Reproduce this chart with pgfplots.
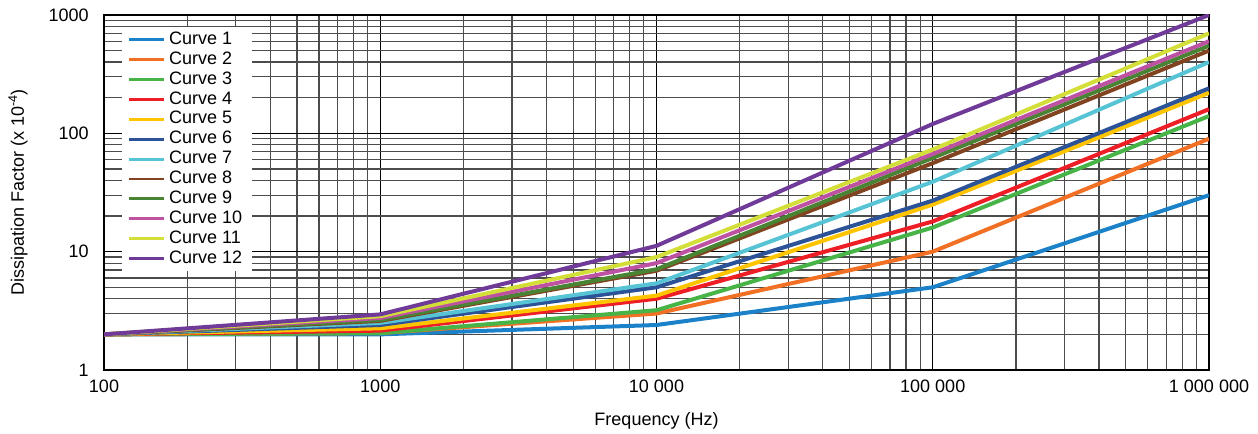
\documentclass[border=0pt]{standalone}
\usepackage{fontspec}
\setmainfont{Liberation Sans}
\usepackage{pgfplots}
\pgfplotsset{compat=1.18}
\definecolor{c1}{RGB}{27,129,200}
\definecolor{c2}{RGB}{242,112,36}
\definecolor{c3}{RGB}{72,180,72}
\definecolor{c4}{RGB}{237,30,38}
\definecolor{c5}{RGB}{255,196,0}
\definecolor{c6}{RGB}{44,82,152}
\definecolor{c7}{RGB}{86,196,212}
\definecolor{c8}{RGB}{130,68,32}
\definecolor{c9}{RGB}{72,132,52}
\definecolor{c10}{RGB}{190,82,162}
\definecolor{c11}{RGB}{212,222,56}
\definecolor{c12}{RGB}{112,58,152}
\begin{document}
\begin{tikzpicture}
\useasboundingbox (-78pt,-48pt) rectangle (865.5pt,277.5pt);
\begin{axis}[
  scale only axis,
  width=828.75pt, height=266.25pt,
  xmode=log, ymode=log,
  xmin=100, xmax=1000000, ymin=1, ymax=1000,
  font=\fontsize{13.5}{16}\selectfont,
  /pgf/number format/assume math mode=true,
  xtick={100,1000,10000,100000,1000000},
  xticklabels={100,1000,10 000,100 000,1 000 000},
  ytick={1,10,100,1000},
  yticklabels={1,10,100,1000},
  major tick length=0pt, minor tick length=0pt,
  grid=both,
  major grid style={black, line width=0.9pt},
  minor grid style={black!70, line width=0.9pt},
  axis line style={line width=1.5pt},
  xticklabel style={yshift=-4pt},
  yticklabel style={xshift=-8pt},
  xlabel={Frequency (Hz)},
  ylabel={Dissipation Factor (x 10\textsuperscript{-4})},
  xlabel style={at={(axis description cs:0.5,0)}, anchor=center, yshift=-38.5pt},
  ylabel style={at={(axis description cs:-0.0778,0.5)}, anchor=center},
  legend style={at={(0.0163,0.966)}, anchor=north west, draw=none, fill=white,
    inner xsep=4pt, inner ysep=2pt,
    nodes={text height=9.9pt, text depth=3pt, inner ysep=1pt, inner xsep=3pt},
    font=\fontsize{13.5}{16}\selectfont},
  legend cell align=left,
  legend image code/.code={\draw[#1, line width=2.2pt] (0pt,0pt) -- (26pt,0pt);},
  every axis plot/.append style={line width=3pt, line join=round},
]
\addplot[c1] coordinates {(100,2) (1000,2.0) (10000,2.4) (100000,5) (1000000,30)};
\addlegendentry{Curve 1}
\addplot[c2] coordinates {(100,2) (1000,2.05) (10000,3.0) (100000,10) (1000000,90)};
\addlegendentry{Curve 2}
\addplot[c3] coordinates {(100,2) (1000,2.05) (10000,3.2) (100000,16) (1000000,140)};
\addlegendentry{Curve 3}
\addplot[c4] coordinates {(100,2) (1000,2.15) (10000,4.0) (100000,18) (1000000,160)};
\addlegendentry{Curve 4}
\addplot[c5] coordinates {(100,2) (1000,2.25) (10000,4.25) (100000,25) (1000000,220)};
\addlegendentry{Curve 5}
\addplot[c6] coordinates {(100,2) (1000,2.4) (10000,5.0) (100000,27) (1000000,240)};
\addlegendentry{Curve 6}
\addplot[c7] coordinates {(100,2) (1000,2.5) (10000,5.4) (100000,39) (1000000,400)};
\addlegendentry{Curve 7}
\addplot[c8] coordinates {(100,2) (1000,2.6) (10000,6.9) (100000,56) (1000000,500)};
\addlegendentry{Curve 8}
\addplot[c9] coordinates {(100,2) (1000,2.65) (10000,7.1) (100000,62) (1000000,550)};
\addlegendentry{Curve 9}
\addplot[c10] coordinates {(100,2) (1000,2.75) (10000,8.0) (100000,67) (1000000,600)};
\addlegendentry{Curve 10}
\addplot[c11] coordinates {(100,2) (1000,2.85) (10000,9.0) (100000,73) (1000000,700)};
\addlegendentry{Curve 11}
\addplot[c12] coordinates {(100,2) (1000,2.95) (10000,11.2) (100000,120) (1000000,1000)};
\addlegendentry{Curve 12}
\end{axis}
\end{tikzpicture}
\end{document}
